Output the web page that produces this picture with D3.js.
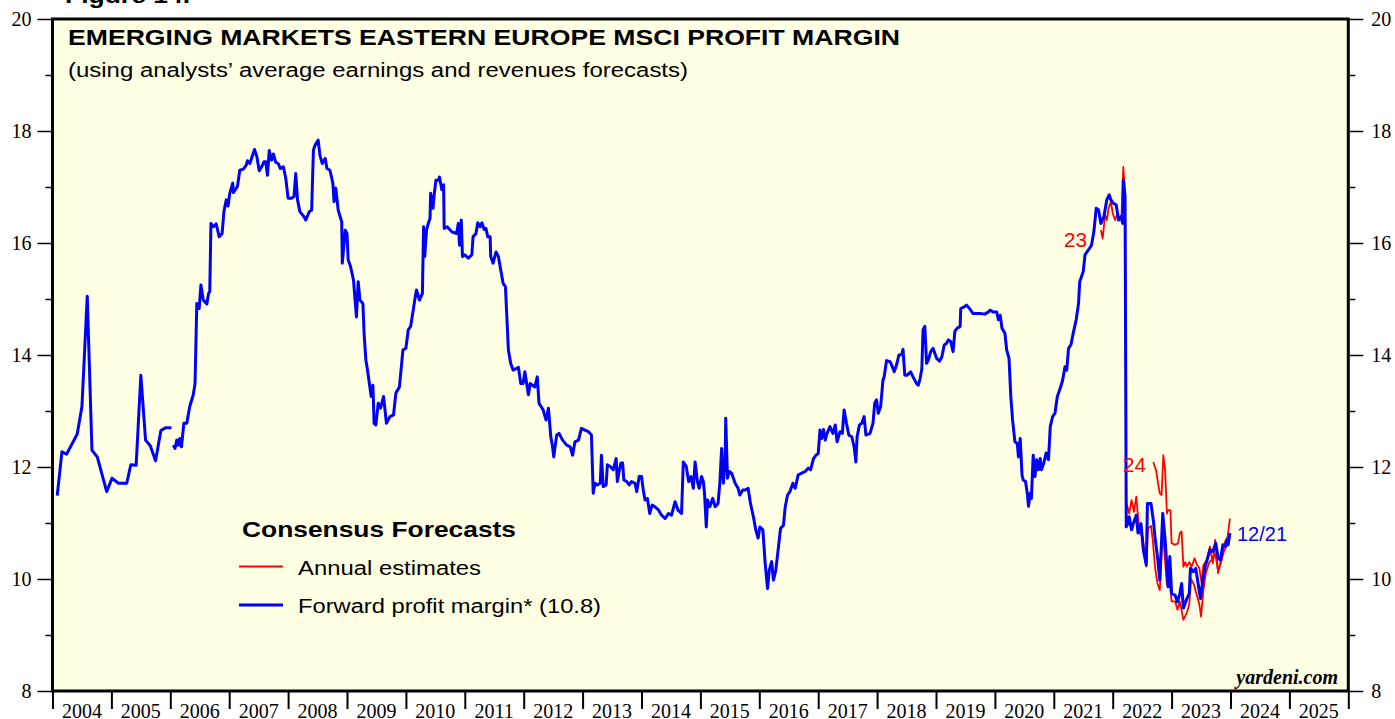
<!DOCTYPE html>
<html>
<head>
<meta charset="utf-8">
<script src="https://cdn.jsdelivr.net/npm/d3@7"></script>
<style>
  body { margin: 0; background: #fff; }
  svg { display: block; }
</style>
</head>
<body>
<div id="chart"></div>
<script>
// forward profit margin (weekly), decimal years
var fwdYears = [
  2004.08,2004.16,2004.24,2004.42,2004.50,2004.59,2004.67,2004.76,2004.92,
  2005.01,2005.12,2005.26,2005.33,2005.42,2005.50,2005.58,2005.66,2005.75,2005.84,2005.92,
  2006.02,2006.04,2006.05,2006.08,2006.11,2006.14,2006.16,2006.19,2006.23,2006.28,2006.33,2006.39,2006.42,2006.45,2006.49,2006.52,2006.56,2006.62,2006.65,2006.67,2006.69,2006.73,2006.78,2006.83,2006.88,2006.91,2006.95,2006.98,
  2007.01,2007.06,2007.07,2007.14,2007.18,2007.24,2007.29,2007.31,2007.35,2007.43,2007.47,2007.51,2007.55,2007.59,2007.62,2007.65,2007.68,2007.72,2007.75,2007.79,2007.83,2007.87,2007.92,2007.96,
  2008.00,2008.06,2008.10,2008.13,2008.16,2008.20,2008.27,2008.30,2008.36,2008.40,2008.43,2008.46,2008.51,2008.54,2008.58,2008.63,2008.66,2008.71,2008.76,2008.78,2008.81,2008.85,2008.91,2008.92,2008.97,
  2009.00,2009.02,2009.06,2009.11,2009.16,2009.19,2009.22,2009.27,2009.29,2009.32,2009.34,2009.38,2009.41,2009.44,2009.46,2009.49,2009.53,2009.57,2009.62,2009.67,2009.73,2009.79,2009.83,2009.89,2009.95,
  2010.00,2010.04,2010.08,2010.12,2010.15,2010.18,2010.23,2010.28,2010.30,2010.32,2010.35,2010.38,2010.41,2010.42,2010.46,2010.48,2010.51,2010.55,2010.57,2010.61,2010.64,2010.65,2010.70,2010.78,2010.86,2010.89,2010.91,2010.94,2010.96,
  2011.00,2011.06,2011.12,2011.14,2011.19,2011.22,2011.26,2011.29,2011.33,2011.36,2011.39,2011.43,2011.44,2011.48,2011.53,2011.57,2011.60,2011.65,2011.69,2011.74,2011.78,2011.82,2011.88,2011.91,2011.95,2011.99,
  2012.02,2012.08,2012.11,2012.19,2012.23,2012.26,2012.33,2012.38,2012.42,2012.46,2012.49,2012.51,2012.56,2012.60,2012.66,2012.73,2012.79,2012.83,2012.87,2012.93,2012.98,
  2013.04,2013.10,2013.15,2013.18,2013.21,2013.25,2013.30,2013.32,2013.35,2013.40,2013.42,2013.47,2013.52,2013.57,2013.59,2013.62,2013.65,2013.68,2013.70,2013.75,2013.79,2013.83,2013.89,2013.92,2013.96,
  2014.00,2014.03,2014.06,2014.10,2014.14,2014.18,2014.23,2014.29,2014.34,2014.40,2014.46,2014.51,2014.57,2014.62,2014.68,2014.71,2014.76,2014.80,2014.84,2014.88,2014.91,2014.95,2014.98,
  2015.02,2015.05,2015.07,2015.10,2015.12,2015.16,2015.21,2015.25,2015.30,2015.33,2015.36,2015.39,2015.42,2015.43,2015.46,2015.49,2015.53,2015.59,2015.64,2015.67,2015.72,2015.76,2015.81,2015.85,2015.90,2015.94,2015.98,
  2016.01,2016.06,2016.10,2016.14,2016.17,2016.21,2016.24,2016.28,2016.32,2016.36,2016.41,2016.44,2016.48,2016.52,2016.57,2016.61,2016.66,2016.72,2016.78,2016.83,2016.87,2016.92,2016.96,
  2017.00,2017.03,2017.06,2017.09,2017.12,2017.15,2017.20,2017.25,2017.29,2017.32,2017.37,2017.41,2017.44,2017.48,2017.52,2017.57,2017.61,2017.64,2017.66,2017.70,2017.74,2017.78,2017.81,2017.88,2017.93,2017.96,2017.99,
  2018.02,2018.06,2018.10,2018.12,2018.16,2018.22,2018.27,2018.29,2018.33,2018.37,2018.42,2018.44,2018.47,2018.51,2018.57,2018.61,2018.67,2018.70,2018.73,2018.76,2018.78,2018.81,2018.84,2018.87,2018.91,2018.95,
  2019.01,2019.06,2019.10,2019.14,2019.18,2019.21,2019.25,2019.29,2019.32,2019.36,2019.41,2019.42,2019.48,2019.52,2019.57,2019.63,2019.69,2019.75,2019.83,2019.89,2019.92,2019.97,
  2020.03,2020.06,2020.09,2020.12,2020.17,2020.20,2020.24,2020.27,2020.30,2020.34,2020.38,2020.40,2020.43,2020.46,2020.48,2020.52,2020.55,2020.57,2020.60,2020.62,2020.65,2020.68,2020.71,2020.74,2020.77,2020.79,2020.83,2020.87,2020.91,2020.94,2020.98,
  2021.02,2021.06,2021.11,2021.15,2021.19,2021.22,2021.25,2021.29,2021.33,2021.38,2021.42,2021.44,2021.50,2021.53,2021.59,2021.64,2021.68,2021.72,2021.76,2021.80,2021.85,2021.90,2021.94,2021.97,
  2022.01,2022.06,2022.10,2022.14,2022.17,2022.18,2022.21,2022.23,2022.26,2022.28,2022.32,2022.35,2022.40,2022.43,2022.48,2022.52,2022.57,2022.59,2022.65,2022.69,2022.72,2022.76,2022.80,2022.85,2022.89,2022.92,2022.94,2022.97,
  2023.00,2023.06,2023.10,2023.14,2023.17,2023.20,2023.26,2023.30,2023.32,2023.37,2023.41,2023.45,2023.49,2023.53,2023.57,2023.61,2023.65,2023.70,2023.75,2023.79,2023.83,2023.87,2023.91,2023.94,2023.96,2023.99
];
var fwdValues = [
  11.49,12.27,12.23,12.59,13.08,15.05,12.30,12.18,11.56,
  11.80,11.71,11.71,12.04,12.03,13.64,12.48,12.38,12.11,12.65,12.70,
  12.70,null,12.39,12.33,12.48,12.39,12.51,12.36,12.78,12.78,13.08,13.29,13.49,14.92,14.83,15.25,14.98,14.91,15.10,15.13,16.35,16.29,16.34,16.11,16.17,16.56,16.77,16.66,
  16.89,17.07,16.90,17.01,17.30,17.32,17.39,17.47,17.42,17.67,17.54,17.29,17.36,17.45,17.45,17.21,17.65,17.48,17.59,17.44,17.42,17.33,17.36,17.16,
  16.80,16.80,16.83,17.24,16.77,16.56,16.47,16.41,16.56,16.59,17.66,17.75,17.84,17.57,17.42,17.51,17.33,17.30,17.07,16.74,16.98,16.59,16.38,15.64,16.23,
  16.17,15.70,15.58,15.34,14.68,15.31,14.98,14.92,14.39,13.91,13.79,13.49,13.26,13.46,12.78,12.75,13.14,13.05,13.26,12.78,12.90,12.93,13.32,13.43,14.09,
  14.12,14.45,14.51,14.77,14.98,15.16,14.98,15.10,16.29,15.76,16.23,16.35,16.44,16.89,16.62,16.86,17.12,17.12,17.18,16.95,17.04,16.26,16.29,16.20,16.17,16.35,15.96,16.41,15.76,
  15.79,15.73,15.79,16.11,16.17,16.36,16.29,16.36,16.24,16.26,16.11,16.11,15.76,15.64,15.84,15.76,15.58,15.28,15.22,14.09,13.85,13.73,13.76,13.78,13.49,13.49,
  13.70,13.29,13.49,13.43,13.61,13.14,13.02,12.84,13.05,12.54,12.36,12.18,12.57,12.60,12.48,12.39,12.36,12.21,12.45,12.48,12.69,
  12.66,12.63,12.57,11.53,11.71,11.68,11.71,12.21,11.65,11.68,12.04,12.01,11.95,12.15,11.74,11.92,12.07,12.07,11.77,11.74,11.68,11.74,11.71,11.56,11.83,
  11.83,11.59,11.41,11.44,11.17,11.32,11.29,11.23,11.14,11.08,11.17,11.14,11.38,11.23,11.17,12.09,12.01,11.74,11.83,11.62,12.09,11.74,11.62,
  11.83,11.74,11.53,10.93,11.41,11.29,11.44,11.29,11.35,11.71,12.33,11.71,12.13,12.87,11.80,11.92,11.89,11.71,11.62,11.50,11.59,11.59,11.62,11.35,11.11,10.88,10.73,
  10.93,10.88,10.28,9.83,10.16,10.31,9.98,10.16,10.52,10.90,10.96,11.29,11.50,11.56,11.71,11.62,11.86,11.89,11.92,11.98,11.95,12.15,12.21,
  12.24,12.66,12.51,12.67,12.48,12.60,12.72,12.60,12.75,12.45,12.63,12.60,13.02,12.78,12.57,12.54,12.36,12.09,12.54,12.75,12.78,12.90,12.57,12.60,12.78,13.14,13.20,
  12.96,13.08,13.55,13.61,13.90,13.88,13.76,13.70,13.82,14.00,14.01,14.10,13.64,13.64,13.70,13.61,13.49,13.46,13.58,13.76,14.45,14.51,13.85,13.91,14.06,14.12,
  13.94,13.89,13.97,14.18,14.21,14.27,14.24,14.06,14.42,14.48,14.51,14.83,14.86,14.89,14.83,14.74,14.74,14.74,14.73,14.77,14.80,14.77,
  14.77,14.63,14.71,14.48,14.39,14.09,13.94,13.26,12.84,12.45,12.42,12.18,12.51,11.86,11.77,11.74,11.53,11.30,11.53,11.44,12.21,11.83,12.13,11.95,12.15,11.95,12.07,12.25,12.13,12.72,12.90,
  12.96,13.26,13.41,13.55,13.79,13.73,14.12,14.18,14.39,14.63,14.92,15.31,15.49,15.79,15.88,15.96,16.20,16.62,16.59,16.35,16.47,16.77,16.86,16.77,
  16.71,16.68,16.41,16.47,16.35,17.12,16.83,10.93,10.99,11.11,10.88,10.99,11.14,10.82,10.99,10.52,10.25,11.35,11.35,11.05,10.73,10.40,9.98,11.17,10.70,10.22,9.86,10.40,
  9.74,9.71,9.59,9.74,9.92,9.48,9.65,9.74,10.19,10.13,10.19,9.92,9.65,9.98,10.22,10.37,10.52,10.49,10.64,10.37,10.34,10.61,10.58,10.70,10.61,10.82
];

// annual consensus estimates for 2023 and 2024
var est23Years = [
  2021.80,2021.83,2021.87,2021.90,2021.93,2021.97,2022.00,2022.04,2022.07,2022.12,2022.15,2022.18,2022.21,
  2022.23,2022.28,2022.32,2022.36,2022.40,2022.43,2022.46,2022.51,2022.57,2022.60,2022.65,2022.68,2022.72,2022.76,2022.80,2022.85,2022.89,2022.92,2022.96,
  2023.00,2023.06,2023.10,2023.14,2023.20,2023.26,2023.30,2023.33,2023.38,2023.43,2023.47,2023.50,2023.54,2023.58,2023.64,2023.69,2023.74,2023.79,2023.84,2023.89,2023.94,2023.99
];
var est23Values = [
  16.23,16.08,16.50,16.41,16.62,16.74,16.53,16.41,16.50,16.44,16.50,17.36,16.90,
  11.38,11.17,11.41,11.20,11.47,11.11,10.82,10.75,10.22,10.90,10.95,10.70,10.20,9.92,9.80,10.90,10.30,9.90,10.00,
  9.60,9.60,9.45,9.60,9.27,9.40,9.55,10.00,9.90,9.70,9.55,9.33,9.80,10.10,10.30,10.35,10.45,10.15,10.30,10.50,10.60,10.80
];
var est24Years = [
  2022.69,2022.74,2022.77,2022.80,2022.83,2022.86,2022.89,2022.92,2022.94,2022.98,
  2023.00,2023.06,2023.11,2023.14,2023.17,2023.20,2023.23,2023.26,2023.30,2023.34,2023.39,2023.43,2023.47,2023.51,2023.54,2023.60,2023.65,2023.70,2023.74,2023.79,2023.83,2023.87,2023.91,2023.95,2023.99
];
var est24Values = [
  12.09,11.92,11.71,11.53,11.50,12.21,11.95,11.17,11.23,11.23,
  10.64,10.61,10.64,10.82,10.85,10.22,10.30,10.22,10.30,10.22,10.37,10.25,10.20,9.92,10.25,10.34,10.58,10.28,10.70,10.10,10.30,10.52,10.67,10.75,11.08
];

var yearLabels = d3.range(2004, 2026);
var yTicks = d3.range(8, 21);

var width = 1395, height = 719;
var plotLeft = 52.5, plotRight = 1348.3, plotTop = 19, plotBottom = 691;
var serif = "'Liberation Serif', 'Times New Roman', serif";
var sans = "'Liberation Sans', Arial, sans-serif";

var x = d3.scaleLinear().domain([2004, 2026]).range([plotLeft, plotRight]);
var y = d3.scaleLinear().domain([8, 20]).range([plotBottom, plotTop]);

var svg = d3.select("#chart")
    .append("svg")
    .attr("width", width)
    .attr("height", height);

// plot background
svg.append("rect")
    .attr("x", plotLeft).attr("y", plotTop)
    .attr("width", plotRight - plotLeft).attr("height", plotBottom - plotTop)
    .attr("fill", "#ffffe4");

// axes
var yLeft = svg.append("g")
    .attr("transform", "translate(" + plotLeft + ",0)")
    .call(d3.axisLeft(y).tickValues(yTicks).tickSize(15).tickPadding(6)
          .tickFormat(function(d) { return d % 2 == 0 ? d : ""; }));
var yRight = svg.append("g")
    .attr("transform", "translate(" + plotRight + ",0)")
    .call(d3.axisRight(y).tickValues(yTicks).tickSize(15).tickPadding(8)
          .tickFormat(function(d) { return d % 2 == 0 ? d : ""; }));
[yLeft, yRight].forEach(function(g, i) {
  g.select(".domain").remove();
  g.selectAll(".tick line")
      .attr("stroke", "#000").attr("stroke-width", 1.5)
      .attr("x2", function(d) { return (d % 2 == 0 ? 15 : 7) * (i == 0 ? -1 : 1); });
  g.selectAll(".tick text")
      .attr("fill", "#000")
      .style("font-family", serif).style("font-size", "20px");
});

var xAxis = svg.append("g")
    .attr("transform", "translate(0," + plotBottom + ")")
    .call(d3.axisBottom(x).tickValues(d3.range(2004, 2027)).tickSize(18).tickFormat(""));
xAxis.select(".domain").remove();
xAxis.selectAll(".tick line").attr("stroke", "#000").attr("stroke-width", 2);

svg.append("g").selectAll("text.year")
    .data(yearLabels)
    .enter()
    .append("text")
    .attr("class", "year")
    .attr("x", function(d) { return x(d + 0.5); })
    .attr("y", 718)
    .attr("text-anchor", "middle")
    .style("font-family", serif).style("font-size", "20px")
    .text(function(d) { return d; });

// series
function toPoints(xs, vs) {
  return xs.map(function(d, i) { return [d, vs[i]]; });
}
var line = d3.line()
    .defined(function(d) { return d[1] != null; })
    .x(function(d) { return x(d[0]); })
    .y(function(d) { return y(d[1]); });

[[est23Years, est23Values], [est24Years, est24Values]].forEach(function(s) {
  svg.append("path")
      .datum(toPoints(s[0], s[1]))
      .attr("fill", "none")
      .attr("stroke", "#ff0000")
      .attr("stroke-width", 1.8)
      .attr("stroke-linejoin", "round")
      .attr("d", line);
});

svg.append("path")
    .datum(toPoints(fwdYears, fwdValues))
    .attr("fill", "none")
    .attr("stroke", "#0000ff")
    .attr("stroke-width", 3)
    .attr("stroke-linejoin", "round")
    .attr("d", line);

// frame
svg.append("rect")
    .attr("x", plotLeft).attr("y", plotTop)
    .attr("width", plotRight - plotLeft).attr("height", plotBottom - plotTop)
    .attr("fill", "none")
    .attr("stroke", "#000")
    .attr("stroke-width", 3);

// texts
function label(t, px, py, size, weight, color, len, family, style) {
  var el = svg.append("text")
      .attr("x", px).attr("y", py)
      .attr("fill", color || "#000")
      .style("font-family", family || sans)
      .style("font-size", size + "px")
      .style("font-weight", weight || "normal")
      .style("font-style", style || "normal")
      .text(t);
  if (len) el.attr("textLength", len).attr("lengthAdjust", "spacingAndGlyphs");
  return el;
}

label("Figure 14.", 65, 3, 22, "bold", "#000", 125);
label("EMERGING MARKETS EASTERN EUROPE MSCI PROFIT MARGIN", 68, 45, 22, "bold", "#000", 832);
label("(using analysts\u2019 average earnings and revenues forecasts)", 68, 77, 20, "normal", "#000", 620);

label("Consensus Forecasts", 242, 537, 22, "bold", "#000", 274);
svg.append("line")
    .attr("x1", 239).attr("x2", 283).attr("y1", 566.5).attr("y2", 566.5)
    .attr("stroke", "#ff0000").attr("stroke-width", 1.8);
label("Annual estimates", 298, 575, 20, "normal", "#000", 183);
svg.append("line")
    .attr("x1", 239).attr("x2", 283).attr("y1", 605).attr("y2", 605)
    .attr("stroke", "#0000ff").attr("stroke-width", 3);
label("Forward profit margin* (10.8)", 298, 613, 20, "normal", "#000", 303);

label("23", 1064, 247, 20, "normal", "#ff0000", 23);
label("24", 1123, 472, 20, "normal", "#ff0000", 23);
label("12/21", 1237, 541, 20, "normal", "#0000ff", 50);

label("yardeni.com", 1338, 684, 20, "bold", "#000", null, serif, "italic")
    .attr("text-anchor", "end");
</script>
</body>
</html>
